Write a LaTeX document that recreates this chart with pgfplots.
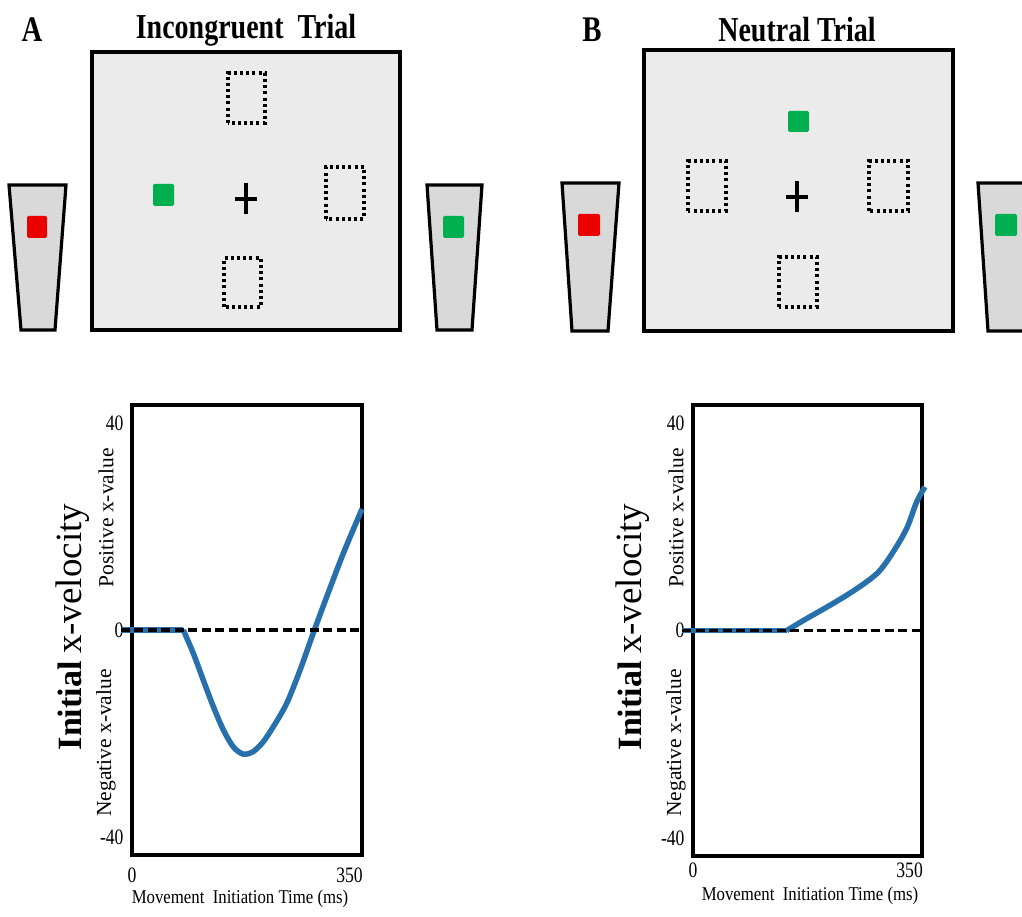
\documentclass[border=0pt]{standalone}
\usepackage{pgfplots}
\pgfplotsset{compat=1.18}
\usepackage{fontspec}
\setmainfont{Liberation Serif}
\newfontfamily\cond[FakeStretch=0.8]{Liberation Serif}
\newfontfamily\condb[FakeStretch=0.86]{Liberation Serif}
\definecolor{scr}{RGB}{235,235,235}
\definecolor{trap}{RGB}{217,217,217}
\definecolor{grn}{RGB}{0,176,80}
\definecolor{rd}{RGB}{235,0,0}
\definecolor{bl}{RGB}{40,112,172}
\pgfplotsset{
  trialax/.style={
    scale only axis, anchor=south west,
    xmin=0, xmax=370, ymin=-43.5, ymax=43.5,
    xtick={0,350}, xticklabels={0,350},
    ytick={-40,0,40}, yticklabels={-40,0,40},
    major tick length=0pt,
    axis line style={line width=3.2pt},
    tick label style={font=\cond\fontsize{22}{23}\selectfont},
    yticklabel style={xshift=-5pt},
    clip=false,
  }
}
\tikzset{dots/.style={line width=3.2pt, dash pattern=on 3pt off 3.2pt},
  bord/.style={line width=3.2pt}}
\begin{document}
\begin{tikzpicture}[x=1pt,y=1pt]
\path[use as bounding box] (0,0) rectangle (1022,917);
% ---------- Titles
\node[font=\cond\bfseries\fontsize{36}{40}\selectfont] at (32,887) {A};
\node[font=\cond\bfseries\fontsize{35}{40}\selectfont] at (246,887) {Incongruent\ \ Trial};
\node[font=\cond\bfseries\fontsize{36}{40}\selectfont] at (592,887) {B};
\node[font=\cond\bfseries\fontsize{35}{40}\selectfont] at (797,887) {Neutral Trial};
% ---------- Panel A screen
\draw[bord, fill=scr] (92,587) rectangle (400,865);
\draw[dots] (228,794) rectangle (265,844);
\draw[dots] (326,698) rectangle (364,750);
\draw[dots] (224,610) rectangle (261,659);
\fill[grn, rounded corners=1.5pt] (153,711) rectangle (174,733);
\draw[line width=4.5pt] (235,718) -- (257,718) (246,703) -- (246,734);
\draw[bord, fill=trap] (9,732) -- (66,732) -- (55,587) -- (21,587) -- cycle;
\fill[rd, rounded corners=1.5pt] (27,679) rectangle (47,701);
\draw[bord, fill=trap] (427,732) -- (482,732) -- (472,587) -- (437,587) -- cycle;
\fill[grn, rounded corners=1.5pt] (443,679) rectangle (464,701);
% ---------- Panel B screen
\draw[bord, fill=scr] (644,586) rectangle (953,867);
\fill[grn, rounded corners=1.5pt] (788,785) rectangle (809,806);
\draw[dots] (688,706) rectangle (726,756);
\draw[dots] (869,706) rectangle (908,756);
\draw[dots] (779,610) rectangle (817,660);
\draw[line width=4.5pt] (786,720) -- (808,720) (797,705) -- (797,736);
\draw[bord, fill=trap] (562,734) -- (619,734) -- (608,586) -- (572,586) -- cycle;
\fill[rd, rounded corners=1.5pt] (578,681) rectangle (600,703);
\begin{scope}
\clip (960,0) rectangle (1022,917);
\draw[bord, fill=trap] (978,734) -- (1035,734) -- (1024,586) -- (988,586) -- cycle;
\fill[grn, rounded corners=1.5pt] (995,681) rectangle (1017,703);
\end{scope}
% ---------- Plot A
\begin{axis}[trialax, at={(132pt,62pt)}, width=230pt, height=450pt,
  xticklabel style={yshift=-9pt}]
\addplot[bl, line width=5.5pt] coordinates {(-18,0) (82.5,0)};
\addplot[bl, line width=5.5pt, smooth, tension=0.5] coordinates {
(82.5,0) (98.6,-4.5) (114.7,-9.7) (130.8,-14.8) (146.9,-19.3) (163,-22.6)
(179,-24.0) (195.1,-23.5) (211.2,-21.6) (227.3,-18.7) (248.8,-14.2)
(270.2,-7.8) (291.6,-0.6) (313.2,6.4) (339.9,14.8) (370,23.4)};
\addplot[black, line width=3.2pt, dash pattern=on 9pt off 4.5pt] coordinates {(-18,0) (371,0)};
\end{axis}
% ---------- Plot B
\begin{axis}[trialax, at={(693pt,61pt)}, width=229pt, height=451pt,
  xticklabel style={yshift=-3pt}]
\addplot[bl, line width=5.5pt] coordinates {(-17,0) (151.4,0)};
\addplot[bl, line width=5.5pt, smooth, tension=0.55] coordinates {
(151.4,0) (183.7,2.3) (216,4.5) (248.3,6.8) (280.6,9.4) (302.1,11.6)
(323.6,15.2) (345.3,19.7) (361.4,24.8) (374.8,27.7)};
\addplot[black, line width=3.2pt, dash pattern=on 9pt off 4.5pt] coordinates {(-17,0) (370,0)};
\end{axis}
% ---------- Axis texts
\foreach \xa/\xb in {73/106, 633/676} {
  \node[rotate=90] at (\xa,290) {{\bfseries\fontsize{34}{36}\selectfont Initial}\ \ \ {\fontsize{37}{40}\selectfont x-velocity}};
  \node[rotate=90, font=\fontsize{21.5}{23}\selectfont] at (\xb,399) {Positive x-value};
  \node[rotate=90, font=\fontsize{21.5}{23}\selectfont] at (\xb,174) {Negative x-value};
}
\node[font=\condb\fontsize{19.5}{22}\selectfont] at (240,18) {Movement\ \ Initiation Time (ms)};
\node[font=\condb\fontsize{19.5}{22}\selectfont] at (810,21) {Movement\ \ Initiation Time (ms)};
\end{tikzpicture}
\end{document}
